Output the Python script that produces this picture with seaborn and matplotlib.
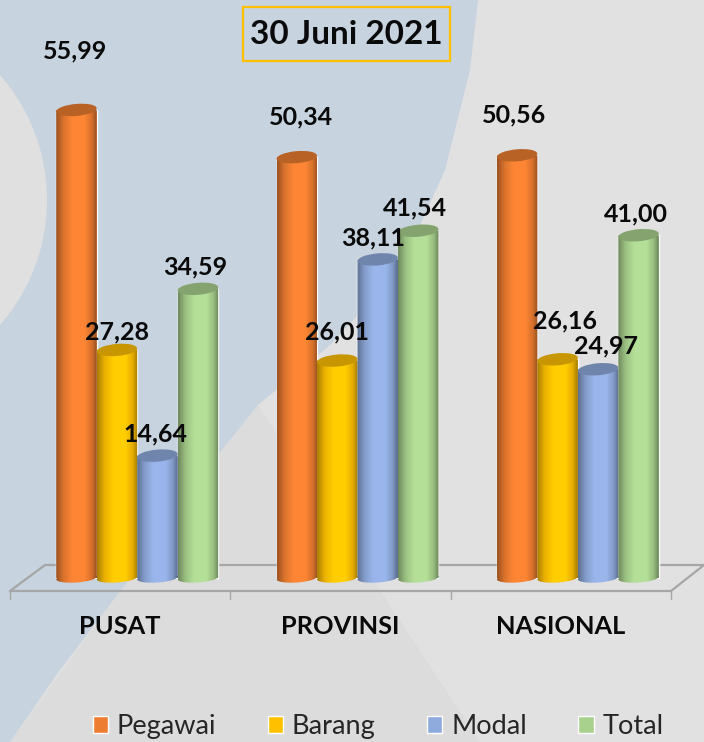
import numpy as np
import pandas as pd
import seaborn as sns
import matplotlib.pyplot as plt
from matplotlib.colors import LinearSegmentedColormap, to_rgb
from matplotlib.patches import Circle, Ellipse, Polygon, Rectangle
from matplotlib.path import Path
from matplotlib.transforms import IdentityTransform

categories = ["PUSAT", "PROVINSI", "NASIONAL"]
series_names = ["Pegawai", "Barang", "Modal", "Total"]
pegawai = [55.99, 50.34, 50.56]
barang = [27.28, 26.01, 26.16]
modal = [14.64, 38.11, 24.97]
total = [34.59, 41.54, 41.00]
colors = ["#ED7D31", "#FFC000", "#8FAADC", "#A9D18E"]
title = "30 Juni 2021"

# label nudges in pixels, picked by eye (series x category)
label_dx = [[-1, 0, -2, -3], [4, 0, -5, -3], [-3, 7, 8, -3]]
label_dy = [[59, 18, 22, 22], [40, 29, 21, 23], [40, 38, 23, 21]]

W, H = 704, 742
BASE = 578
PX_PER_UNIT = 8.36

sns.set_theme(style="white")
plt.rcParams["font.family"] = ["Lato", "DejaVu Sans"]

fig = plt.figure(figsize=(W / 100, H / 100), dpi=100)
fig.patch.set_facecolor("#E1E1E1")

# background shapes
bg = fig.add_axes([0, 0, 1, 1])
bg.set_xlim(0, W)
bg.set_ylim(H, 0)
bg.axis("off")
blue_edge = [(478, 0), (470, 70), (445, 170), (400, 270), (330, 345), (258, 405),
             (190, 490), (125, 585), (60, 670), (10, 742), (0, 742), (0, 0)]
bg.add_patch(Polygon([(258, 405), (480, 742), (10, 742), (125, 585), (190, 490)],
                     fc="#DCDCDC", ec="none", zorder=1))
bg.add_patch(Polygon(blue_edge, fc="#C7D3DE", ec="none", zorder=2))
bg.add_patch(Circle((-143, 200), 190, fc="#E0E0E0", ec="none", zorder=3))

# floor of the 3d chart
grey = "#A6A6A6"
bg.plot([10, 671, 704], [591, 591, 565], color=grey, lw=1.6, zorder=4)
bg.plot([10, 45, 704], [591, 565, 565], color=grey, lw=1.6, zorder=4)
for tx in [10, 230, 451, 671]:
    bg.plot([tx, tx], [591, 599], color=grey, lw=1.0, zorder=4)

# title box
bg.add_patch(Rectangle((243, 7), 207, 54, fc="none", ec="#FFC000", lw=1.6, zorder=5))
bg.text(346, 34, title, ha="center", va="center", fontsize=24, fontweight="bold",
        color="#0A0A0A", zorder=6)

df = pd.DataFrame({
    "kategori": categories * 4,
    "seri": np.repeat(series_names, 3),
    "nilai": pegawai + barang + modal + total,
})

ax = fig.add_axes([27 / W, 0, 661 / W, 1])
ax.patch.set_alpha(0)
sns.barplot(data=df, x="kategori", y="nilai", hue="seri", order=categories,
            hue_order=series_names, palette=colors, width=0.735, saturation=1,
            ax=ax)
ax.set_xlim(-0.5, 2.5)
ax.set_ylim(-(H - BASE) / PX_PER_UNIT, BASE / PX_PER_UNIT)
ax.set_xlabel("")
ax.set_ylabel("")
ax.set_xticks([])
ax.set_yticks([])
sns.despine(ax=ax, left=True, bottom=True)
ax.set_autoscale_on(False)

sns.move_legend(ax, loc="lower left", bbox_to_anchor=(90 / W, 0), bbox_transform=fig.transFigure,
                ncol=4, frameon=False, title=None, fontsize=19.5, handlelength=0.56,
                handleheight=0.56, handletextpad=0.33, columnspacing=1.9,
                labelcolor="#262626", borderpad=0.1, borderaxespad=0)

fig.canvas.draw()
to_px = ax.transData


def cylinder_cmap(color):
    base = np.array(to_rgb(color))
    stops = [(0, 0.66), (0.18, 0.92), (0.4, 1.07), (0.7, 1.07), (0.88, 0.9), (1, 0.64)]
    rows = [(pos, np.clip(base * s, 0, 1)) for pos, s in stops]
    return LinearSegmentedColormap.from_list("cyl", rows)


ramp = np.linspace(0, 1, 64).reshape(1, -1)
bars = [p for p in ax.patches if p.get_height() > 0]
bars = sorted(bars, key=lambda p: p.get_x())

for bar in bars:
    x0, w, h = bar.get_x(), bar.get_width(), bar.get_height()
    color = bar.get_facecolor()
    (px0, py0), (px1, py1) = to_px.transform([(x0, 0), (x0 + w, h)])
    cx = (px0 + px1) / 2
    pw = px1 - px0

    foot = Ellipse((cx, py0), pw, 9, angle=4)
    outline = Path.make_compound_path(
        Path([(px0, py0), (px1, py0), (px1, py1), (px0, py1), (px0, py0)], closed=True),
        foot.get_patch_transform().transform_path(foot.get_path()),
    )
    img = ax.imshow(ramp, cmap=cylinder_cmap(color), aspect="auto", zorder=3 + x0 * 0.1,
                    extent=(x0, x0 + w, -1, h), interpolation="bilinear")
    img.set_clip_path(outline, transform=IdentityTransform())

    rgb = np.array(to_rgb(color)) * 0.78
    ax.add_patch(Ellipse((cx, py1), pw, 12, angle=5, fc=rgb, ec="none",
                         transform=IdentityTransform(), zorder=3.5 + x0 * 0.1))

ax.set_xlim(-0.5, 2.5)
ax.set_ylim(-(H - BASE) / PX_PER_UNIT, BASE / PX_PER_UNIT)

# data labels
all_vals = [pegawai, barang, modal, total]
for k, name in enumerate(series_names):
    for i in range(len(categories)):
        val = all_vals[k][i]
        x = i + (k - 1.5) * 0.735 / 4
        txt = f"{val:.2f}".replace(".", ",")
        ax.annotate(txt, (x, val), xytext=(label_dx[i][k], label_dy[i][k]),
                    textcoords="offset pixels", ha="center", va="center",
                    fontsize=18, fontweight="bold", color="#0A0A0A", zorder=10)

# category labels sit under the front edge of the floor
for i, cat in enumerate(categories):
    ax.annotate(cat, (i, 0), xytext=(-17, -49), textcoords="offset pixels",
                ha="center", va="center", fontsize=18.3, fontweight="bold",
                color="#0A0A0A", zorder=10)

fig.savefig("out.png", dpi=100, facecolor=fig.get_facecolor())
